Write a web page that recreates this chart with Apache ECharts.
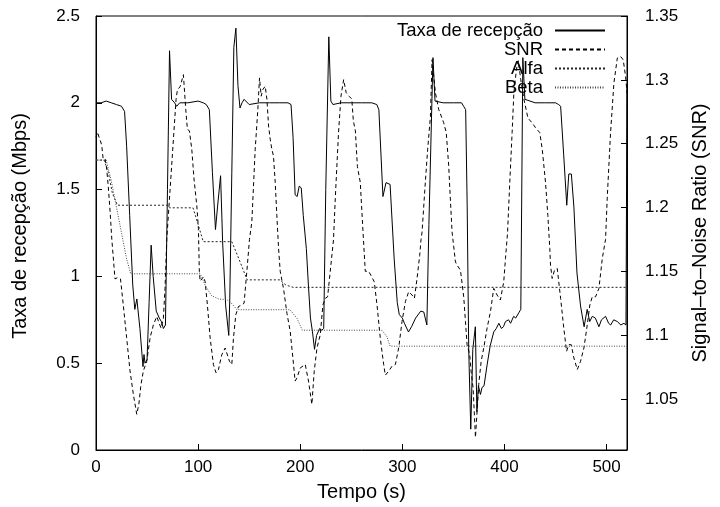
<!DOCTYPE html>
<html>
<head>
<meta charset="utf-8">
<script src="https://cdn.jsdelivr.net/npm/echarts@6/dist/echarts.min.js"></script>
<style>html,body{margin:0;padding:0;background:#fff}#c{width:720px;height:507px}</style>
</head>
<body>
<div id="c"></div>
<script>
// ---- data ----
const seriesNames = ['Taxa de recepção', 'SNR', 'Alfa', 'Beta'];
const xTicks = [0, 100, 200, 300, 400, 500];
const yLeftTicks = [0, 0.5, 1, 1.5, 2, 2.5];
const yRightTicks = [1.05, 1.1, 1.15, 1.2, 1.25, 1.3, 1.35];

const taxaT = [0,5,10,15,20,25,28,30,33,36,38,40,43,46,47,48,50,52,54,56,59,62,64,66,68,70,72,74,77,79,82,90,100,105,108,111,114,117,119,122,124,127,130,131,133,135,137,139,141,143,145,150,160,170,180,188,191,193,195,197,199,201,203,206,208,210,212,214,216,219,221,223,225,228,230,232,240,250,260,270,275,277,281,284,288,292,295,297,300,302,306,309,313,318,321,324,326,330,332,340,350,358,360,362,363.5,365,367,369,371.5,373,374.5,376.5,378,380,383,386,389.5,392,394.5,397,399,401,404,406,409,411,414,416,418,420,430,440,450,453,455,458,461,463,465.5,468,471,474.5,478,481,483.5,486,489,492.5,495,499,502,504,507,510.5,514,517,519,520];
const taxa = [2.00,2.00,2.01,2.00,1.99,1.98,1.95,1.75,1.35,0.95,0.81,0.87,0.70,0.48,0.55,0.50,0.52,0.85,1.18,1.00,0.80,0.76,0.74,0.70,0.72,1.50,2.30,2.02,2.00,1.98,2.00,2.00,2.01,2.00,1.99,1.96,1.60,1.27,1.40,1.58,1.20,0.83,0.66,0.87,1.60,2.32,2.43,2.10,1.97,2.00,2.02,1.99,2.00,2.00,2.00,2.00,1.99,1.80,1.47,1.46,1.52,1.51,1.35,1.16,0.95,0.76,0.68,0.58,0.66,0.70,0.69,0.70,1.50,2.38,2.01,1.99,2.00,2.00,2.00,2.00,1.99,1.96,1.46,1.54,1.53,1.10,0.85,0.78,0.76,0.73,0.68,0.71,0.76,0.80,0.795,0.72,1.30,2.26,2.01,2.00,2.00,2.00,1.98,1.96,1.40,0.58,0.12,0.58,0.71,0.22,0.37,0.32,0.36,0.37,0.49,0.60,0.68,0.70,0.73,0.70,0.71,0.74,0.75,0.73,0.77,0.76,0.79,0.81,2.26,2.02,2.00,2.00,2.00,1.99,1.98,1.70,1.41,1.59,1.59,1.40,1.02,0.83,0.71,0.81,0.74,0.77,0.76,0.71,0.75,0.77,0.73,0.72,0.75,0.74,0.72,0.73,0.72,2.10];

const snrT = [0,1.5,3,5.6,7,9,10.5,12,13.7,15.5,18.6,21,24,26.8,30,33.3,36.6,39.9,42,44,46.4,49.7,53,56.2,59.5,61.8,63.7,66,67.6,69.3,78.4,79.7,82.4,85.6,87.9,89.5,91.5,93.8,96,98.7,100.3,101.2,102,105.3,106.9,109.1,111.8,115,117.6,119.9,123.2,126.5,128.1,130.7,133,134.6,136.9,139.5,142.8,145,147.7,150.3,152.6,155.9,158.5,160.1,161.8,163.4,165.7,167.4,169,170.6,172.2,173.8,175.5,177.1,178.8,180.4,183.6,187,190.2,192.8,195,196.8,200,204.9,208.1,211.4,213.7,216.4,219.6,222.2,224.5,226.8,229.4,232.6,234.3,237.5,239.9,242.5,245,248,250.5,252,254,256,258.8,261.5,263.7,267,270,272.5,275.2,278.4,281.7,283.3,286.6,289.9,293.2,296.4,299.7,303,306.2,309.5,311.8,314.4,317,318.3,319.3,322.5,324.8,327.5,329.1,332.4,335.6,340.5,343,345.4,347,348.7,352,353.6,356.9,360.1,361.8,363.4,366,367.3,369.3,371.6,373.2,374.8,377.2,379.7,383,386.3,389.5,392.8,396,399.3,401,403,405.2,407.5,409.2,411.7,413.5,416,419,423,427,430.4,434.6,437,440.2,442.5,444.4,445.1,446.7,449,451.7,455,458.1,460.8,463,465.4,468,471.3,474.5,477.8,481.1,483.6,486,489.2,492.5,495.8,499,500.6,503.9,507.2,510.5,513.7,516.3,518.6,520];
const snr = [1.255,1.259,1.255,1.249,1.238,1.238,1.230,1.2165,1.198,1.175,1.144,1.145,1.144,1.123,1.098,1.072,1.0535,1.038,1.046,1.061,1.072,1.0795,1.098,1.108,1.1146,1.1094,1.1055,1.1133,1.1366,1.175,1.2846,1.292,1.2947,1.304,1.2768,1.2612,1.260,1.2456,1.2223,1.2015,1.1833,1.15,1.1423,1.1457,1.1418,1.1236,1.0976,1.0769,1.0704,1.073,1.0847,1.0899,1.0899,1.0795,1.077,1.0976,1.1159,1.1224,1.1236,1.125,1.1497,1.175,1.1886,1.2456,1.2768,1.3015,1.2872,1.2924,1.295,1.2846,1.2638,1.2535,1.2456,1.2404,1.2197,1.1937,1.1678,1.15,1.1366,1.117,1.1029,1.0821,1.064,1.0665,1.0743,1.077,1.064,1.0458,1.0717,1.0899,1.1002,1.1236,1.1288,1.13,1.15,1.175,1.2067,1.2586,1.2872,1.3001,1.29,1.287,1.285,1.268,1.26,1.232,1.2197,1.1807,1.15,1.15,1.1457,1.1418,1.1236,1.0976,1.077,1.0686,1.0717,1.0757,1.077,1.0899,1.1107,1.1263,1.134,1.1314,1.1288,1.1444,1.1625,1.175,1.1807,1.2197,1.2456,1.2716,1.3157,1.2898,1.2768,1.2664,1.2586,1.2326,1.2067,1.1807,1.1574,1.1548,1.1509,1.13,1.1107,1.0925,1.0847,1.0717,1.0587,1.0198,1.0405,1.0613,1.0796,1.0899,1.1055,1.1185,1.1366,1.1314,1.1275,1.1418,1.16,1.18,1.2197,1.2586,1.2898,1.308,1.315,1.30,1.285,1.27,1.2664,1.2625,1.2586,1.2456,1.2197,1.1937,1.1678,1.1548,1.1444,1.1509,1.1522,1.1288,1.1055,1.0873,1.0925,1.0925,1.0821,1.073,1.0795,1.0899,1.1081,1.1236,1.13,1.13,1.1366,1.16,1.175,1.2067,1.2586,1.2976,1.317,1.3183,1.3157,1.3027,1.29];

const alfaT = [0,8,12,16,21,70,72,95,100,105,133,140,148,180,186,193,520];
const alfa = [1.67,1.67,1.60,1.48,1.41,1.41,1.395,1.395,1.30,1.20,1.20,1.10,0.98,0.98,0.95,0.937,0.937];

const betaT = [0,10,15,20,25,30,34,102,104,107,113,120,128,132,138,190,197,202,280,285,288,520];
const beta = [1.67,1.67,1.55,1.40,1.25,1.10,1.015,1.015,0.99,0.948,0.89,0.87,0.866,0.85,0.808,0.808,0.757,0.69,0.69,0.652,0.598,0.598];

// ---- chart ----
const pairs = (xs, ys) => xs.map((x, i) => [x, ys[i]]);
const FONT = 'Liberation Sans, Arial, Helvetica, sans-serif';
const FS = 17;   // tick labels
const FT = 20;   // axis titles
const FL = 18.5; // legend
const chart = echarts.init(document.getElementById('c'), null, {renderer: 'canvas'});

const lineSeries = (name, xs, ys, yIndex, type, color) => ({
  name, type: 'line', yAxisIndex: yIndex, data: pairs(xs, ys),
  symbol: 'none', showSymbol: false, smooth: false, animation: false,
  lineStyle: {color, width: 1, type},
  itemStyle: {color}
});

chart.setOption({
  animation: false,
  backgroundColor: '#fff',
  textStyle: {fontFamily: FONT, color: '#000'},
  grid: {left: 96, right: 93, top: 16, bottom: 55, show: true, borderColor: '#000', borderWidth: 1, containLabel: false},
  legend: {
    orient: 'vertical', align: 'right', right: 114, top: 21, padding: 0,
    itemWidth: 50, itemHeight: 19, itemGap: 0,
    itemStyle: {color: 'rgba(0,0,0,0)', borderColor: 'rgba(0,0,0,0)', borderWidth: 0, opacity: 0},
    textStyle: {fontFamily: FONT, fontSize: FL, lineHeight: 19, color: '#000', padding: [0, 7, 0, 0]},
    data: seriesNames, selectedMode: false
  },
  xAxis: {
    type: 'value', min: 0, max: 520,
    name: 'Tempo (s)', nameLocation: 'middle', nameGap: 32,
    nameTextStyle: {fontFamily: FONT, fontSize: FT, color: '#000'},
    axisLine: {show: true, lineStyle: {color: '#000', width: 1}},
    axisTick: {show: true, inside: true, length: 6, lineStyle: {color: '#000'}, customValues: xTicks},
    axisLabel: {fontFamily: FONT, fontSize: FS, color: '#000', margin: 9, customValues: xTicks},
    splitLine: {show: false}
  },
  yAxis: [{
    type: 'value', min: 0, max: 2.5, interval: 0.5, position: 'left',
    name: 'Taxa de recepção (Mbps)', nameLocation: 'middle', nameGap: 66, nameRotate: 90,
    nameTextStyle: {fontFamily: FONT, fontSize: FT, color: '#000', padding: [0, 0, 0, 14]},
    axisLine: {show: true, lineStyle: {color: '#000', width: 1}},
    axisTick: {show: true, inside: true, length: 6, lineStyle: {color: '#000'}, customValues: yLeftTicks},
    axisLabel: {fontFamily: FONT, fontSize: FS, color: '#000', margin: 16, customValues: yLeftTicks},
    splitLine: {show: false}
  }, {
    type: 'value', min: 1.01, max: 1.35, position: 'right',
    name: 'Signal–to–Noise Ratio (SNR)', nameLocation: 'middle', nameGap: 63, nameRotate: 90,
    nameTextStyle: {fontFamily: FONT, fontSize: FT, color: '#000'},
    axisLine: {show: true, lineStyle: {color: '#000', width: 1}},
    axisTick: {show: true, inside: true, length: 6, lineStyle: {color: '#000'}, customValues: yRightTicks},
    axisLabel: {fontFamily: FONT, fontSize: FS, color: '#000', margin: 18, customValues: yRightTicks},
    splitLine: {show: false}
  }],
  series: [
    lineSeries(seriesNames[0], taxaT, taxa, 0, 'solid', '#000'),
    lineSeries(seriesNames[1], snrT, snr, 1, [4, 3], '#000'),
    lineSeries(seriesNames[2], alfaT, alfa, 0, [2, 2], '#222'),
    lineSeries(seriesNames[3], betaT, beta, 0, [1, 1.5], '#444')
  ]
});
</script>
</body>
</html>
